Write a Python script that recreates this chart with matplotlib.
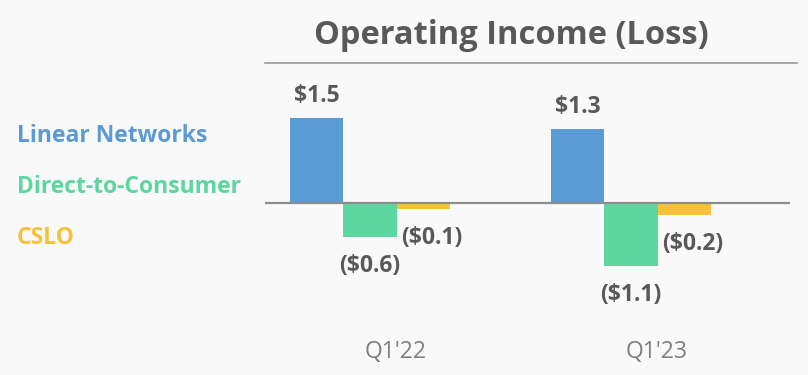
import matplotlib
matplotlib.use("Agg")
import matplotlib.pyplot as plt
import matplotlib.transforms as mtransforms
from matplotlib.lines import Line2D
import numpy as np

categories = ["Q1'22", "Q1'23"]
series = ["Linear Networks", "Direct-to-Consumer", "CSLO"]
linear_networks = [1.5, 1.3]
direct_to_consumer = [-0.6, -1.1]
cslo = [-0.1, -0.2]
value_labels = [["$1.5", "$1.3"], ["($0.6)", "($1.1)"], ["($0.1)", "($0.2)"]]
title = "Operating Income (Loss)"

colors = ["#5b9bd5", "#5ed6a0", "#f7c13a"]
text_gray = "#595959"
bg = "#f9f9f9"
font = ["Open Sans", "DejaVu Sans"]

W, H = 808, 375
fig = plt.figure(figsize=(W / 100, H / 100), dpi=100, facecolor=bg)

# axes in pixel coordinates
left_px, right_px, top_px, bottom_px = 265, 790, 80, 320
ax = fig.add_axes([left_px / W, 1 - bottom_px / H, (right_px - left_px) / W, (bottom_px - top_px) / H])
ax.set_facecolor(bg)
ax.set_xlim(-0.402, 1.609)
ax.set_ylim(-2.05, 2.16)
for s in ax.spines.values():
    s.set_visible(False)
ax.set_xticks([])
ax.set_yticks([])

x = np.arange(len(categories))
w = 0.205
data = [linear_networks, direct_to_consumer, cslo]
dx_px = [0, 0, 8]
for i, (vals, c) in enumerate(zip(data, colors)):
    pos = x + (i - 1) * w
    ax.bar(pos, vals, width=w, color=c, zorder=2)
    for j, v in enumerate(vals):
        off = 22 if v > 0 else -29
        ax.annotate(value_labels[i][j], (pos[j], v), xytext=(dx_px[i] * 0.72, off * 0.72),
                    textcoords="offset points", ha="center", va="center",
                    fontsize=16.5, fontweight="bold", color=text_gray, family=font)

ax.axhline(0, color="#8c8c8c", lw=1.6, zorder=3)

# category labels
trans = mtransforms.blended_transform_factory(ax.transData, fig.transFigure)
for j, cat in enumerate(categories):
    ax.text(x[j] + 0.1, 1 - 352 / H, cat, transform=trans, ha="center", va="center",
            fontsize=16.5, color="#7f7f7f", family=font)

# title and rule
fig.text(511 / W, 1 - 36 / H, title, ha="center", va="center", fontsize=23.5,
         fontweight="bold", color=text_gray, family=font)
fig.add_artist(Line2D([265 / W, 797 / W], [1 - 63 / H, 1 - 63 / H], color="#9a9a9a", lw=1.2))

# legend-like labels
leg_y = [136, 187, 238]
for name, c, yy in zip(series, colors, leg_y):
    fig.text(17 / W, 1 - yy / H, name, ha="left", va="center", fontsize=16.5,
             fontweight="bold", color=c, family=font)

fig.savefig("out.png", dpi=100, facecolor=bg)
